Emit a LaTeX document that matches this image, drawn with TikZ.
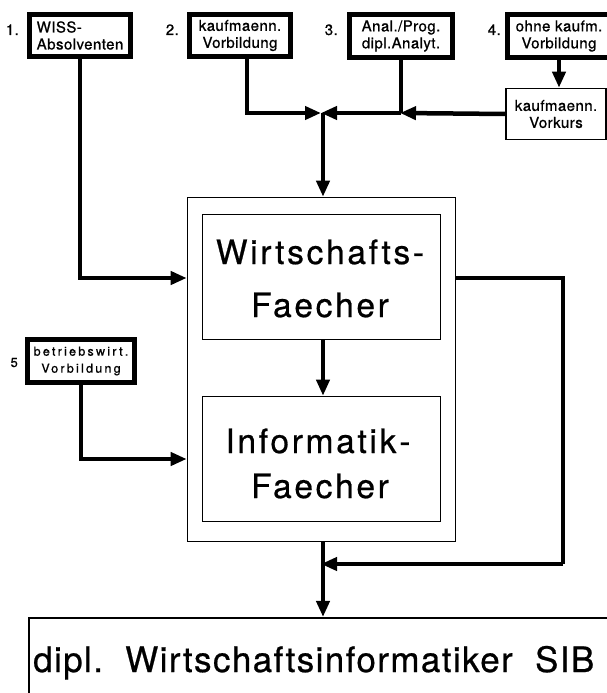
\documentclass[tikz,border=0pt]{standalone}
\usepackage{fontspec}
\setmainfont{TeX Gyre Heros}
\newfontfamily\boxfont[LetterSpace=3,FakeBold=0.8]{TeX Gyre Heros}
\newfontfamily\tightfont[LetterSpace=18,FakeBold=0.8]{TeX Gyre Heros}
\newfontfamily\subjfont[LetterSpace=8,FakeBold=0.6]{TeX Gyre Heros}
\newfontfamily\degfont[LetterSpace=4,FakeBold=0.6]{TeX Gyre Heros}
\usetikzlibrary{arrows.meta}

\begin{document}
\begin{tikzpicture}[
  x=1pt, y=-1pt,
  srcbox/.style={draw, line width=4.8pt, inner sep=0pt, align=center,
    font=\boxfont\fontsize{15}{17}\selectfont},
  thinbox/.style={draw, line width=1.6pt, inner sep=0pt},
  num/.style={anchor=base east, inner sep=0pt, font=\boxfont\fontsize{15}{16}\selectfont},
  conn/.style={line width=4.5pt, -{Triangle[length=16pt,width=13pt]}},
  wire/.style={line width=4.5pt},
  subj/.style={anchor=base, inner sep=0pt, font=\subjfont\fontsize{33.5}{40}\selectfont},
]
\useasboundingbox[fill=white] (0,0) rectangle (607,693);

% entry routes
\node[srcbox, align=left, minimum width=101pt, minimum height=42pt] (b1) at (80,35.5) {WISS-\\Absolventen};
\node[srcbox, minimum width=101pt, minimum height=42pt] (b2) at (240,35.5) {kaufmaenn.\\Vorbildung};
\node[srcbox, minimum width=103pt, minimum height=43pt] (b3) at (401,36) {Anal./Prog.\\dipl.Analyt.};
\node[srcbox, minimum width=103pt, minimum height=43pt] (b4) at (559,36) {ohne kaufm.\\Vorbildung};
\node[thinbox, align=center, font=\boxfont\fontsize{15}{17}\selectfont,
      minimum width=100pt, minimum height=51pt] (vk) at (556,114) {kaufmaenn.\\Vorkurs};
\node[srcbox, font=\tightfont\fontsize{12.5}{17}\selectfont,
      minimum width=107pt, minimum height=43pt] (b5) at (81,361) {betriebswirt.\\Vorbildung};

\node[num] (n1) at (19,35) {1.};
\node[num] (n2) at (179,35) {2.};
\node[num] (n3) at (338,35) {3.};
\node[num] (n4) at (501,35) {4.};
\node[num, font=\boxfont\fontsize{13}{14}\selectfont] (n5) at (18,367) {5};

% study block
\node[thinbox, minimum width=268pt, minimum height=344pt] (out) at (321.5,369.5) {};
\node[thinbox, minimum width=238pt, minimum height=125pt] (in1) at (321.5,277) {};
\node[thinbox, minimum width=238pt, minimum height=125pt] (in2) at (321.5,459) {};
\node[subj] (t1) at (320,264) {Wirtschafts-};
\node[subj] (t2) at (320,317) {Faecher};
\node[subj] (t3) at (318,453) {Informatik\hspace{3pt}-};
\node[subj] (t4) at (320,498) {Faecher};

% degree
\node[thinbox, minimum width=620pt, minimum height=120pt] (dipl) at (338.75,677.75) {};
\node[anchor=base west, inner sep=0pt, font=\degfont\fontsize{35}{40}\selectfont] (deg) at (33,672)
  {dipl.\ \ Wirtschaftsinformatiker\ \ SIB};

% junction points
\coordinate (jn) at (323,113);
\coordinate (j3) at (b3.south |- jn);
\coordinate (inA) at (out.west |- 0,278);
\coordinate (inB) at (out.west |- 0,459);
\coordinate (outR) at (out.east |- 0,278);
\coordinate (rc) at (563,564);
\coordinate (mrg) at (323,564);

% connectors
\draw[conn, shorten >=2pt] ([xshift=7pt]b2.south) |- (jn);
\draw[wire] (b3.south) -- (j3);
\draw[conn, shorten >=-1pt] (vk.west) -- (j3);
\draw[conn, shorten >=-2pt] (j3) -- (jn);
\draw[conn] (jn) -- (jn |- out.north);
\draw[conn] (b4.south) -- (b4.south |- vk.north);
\draw[conn] (b1.south) |- (inA);
\draw[conn] (b5.south) |- (inB);
\draw[conn, line width=3.8pt] (in1.south -| jn) -- (in2.north -| jn);
\draw[wire] (outR) -| (rc);
\draw[conn, shorten >=-2pt] (rc) -- (mrg);
\draw[conn] (out.south -| jn) -- (jn |- dipl.north);
\end{tikzpicture}
\end{document}
